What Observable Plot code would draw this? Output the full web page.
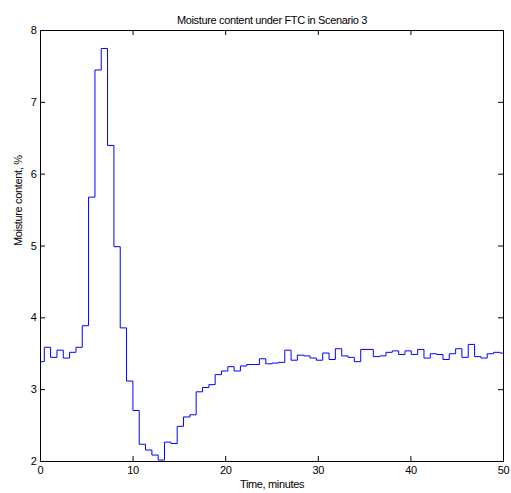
<!DOCTYPE html>
<html>
<head>
<meta charset="utf-8">
<script src="https://cdn.jsdelivr.net/npm/d3@7"></script>
<script src="https://cdn.jsdelivr.net/npm/@observablehq/plot@0.6"></script>
<style>
  html, body { margin: 0; padding: 0; background: #fff; }
  #chart { width: 511px; height: 493px; }
</style>
</head>
<body>
<div id="chart"></div>
<script>
// Step start times (minutes)
const times = [0, 0.41, 1.09, 1.78, 2.46, 3.14, 3.83, 4.51, 5.19, 5.88, 6.56, 7.24, 7.93, 8.61, 9.29, 9.98,
  10.66, 11.34, 12.03, 12.71, 13.39, 14.08, 14.76, 15.44, 16.13, 16.81, 17.49, 18.18, 18.86, 19.54,
  20.23, 20.91, 21.59, 22.28, 22.96, 23.64, 24.33, 25.01, 25.69, 26.38, 27.06, 27.74, 28.43, 29.11,
  29.79, 30.48, 31.16, 31.84, 32.53, 33.21, 33.89, 34.58, 35.26, 35.94, 36.63, 37.31, 37.99, 38.68,
  39.36, 40.04, 40.73, 41.41, 42.09, 42.78, 43.46, 44.14, 44.83, 45.51, 46.19, 46.88, 47.56, 48.24,
  48.93, 49.61, 50];
// Moisture content (%) for each step
const moisture = [3.39, 3.59, 3.45, 3.55, 3.44, 3.52, 3.59, 3.89, 5.68, 7.45, 7.75, 6.40, 4.99, 3.86, 3.12, 2.71,
  2.24, 2.16, 2.09, 2.02, 2.27, 2.25, 2.49, 2.62, 2.65, 2.97, 3.03, 3.07, 3.21, 3.26,
  3.32, 3.26, 3.33, 3.35, 3.35, 3.43, 3.36, 3.37, 3.38, 3.55, 3.41, 3.48, 3.47, 3.44,
  3.41, 3.51, 3.42, 3.57, 3.47, 3.45, 3.39, 3.56, 3.56, 3.46, 3.47, 3.52, 3.54, 3.49,
  3.54, 3.49, 3.56, 3.44, 3.50, 3.49, 3.42, 3.50, 3.57, 3.45, 3.63, 3.46, 3.44, 3.50,
  3.52, 3.51, 3.51];
const xTicks = [0, 10, 20, 30, 40, 50];
const yTicks = [2, 3, 4, 5, 6, 7, 8];
const titleText = "Moisture content under FTC in Scenario 3";
const xLabel = "Time, minutes";
const yLabel = "Moisture content, %";

const data = times.map((t, i) => ({t, v: moisture[i]}));
const font = "'Liberation Sans', Arial, Helvetica, sans-serif";

const chart = Plot.plot({
  width: 511,
  height: 493,
  marginLeft: 40,
  marginRight: 8,
  marginTop: 30,
  marginBottom: 32,
  style: {fontFamily: font, fontSize: "11px", background: "#fff", color: "#000", letterSpacing: "-0.35px"},
  x: {domain: [0, 50]},
  y: {domain: [2, 8]},
  marks: [
    Plot.line(data, {x: "t", y: "v", curve: "step-after", stroke: "#0000ff", strokeWidth: 1}),
    Plot.frame({stroke: "#000", strokeWidth: 1}),
    // inward ticks on all four sides
    Plot.tickX(xTicks, {x: d => d, insetTop: 426, stroke: "#000", strokeWidth: 1}),
    Plot.tickX(xTicks, {x: d => d, insetBottom: 426, stroke: "#000", strokeWidth: 1}),
    Plot.tickY(yTicks, {y: d => d, insetRight: 458, stroke: "#000", strokeWidth: 1}),
    Plot.tickY(yTicks, {y: d => d, insetLeft: 458, stroke: "#000", strokeWidth: 1}),
    Plot.axisX({ticks: xTicks, tickSize: 0, tickPadding: 5, label: null, tickFormat: d3.format("d"), fontSize: 11}),
    Plot.axisY({ticks: yTicks, tickSize: 0, tickPadding: 4, label: null, tickFormat: d3.format("d"), fontSize: 11}),
    Plot.text([titleText], {frameAnchor: "top", dy: -14, fontSize: 11, fill: "#000"}),
    Plot.text([xLabel], {frameAnchor: "bottom", dy: 26, fontSize: 11, fill: "#000"}),
    Plot.text([yLabel], {frameAnchor: "left", dx: -22, rotate: -90, fontSize: 11, fill: "#000"})
  ]
});
document.getElementById("chart").appendChild(chart);
</script>
</body>
</html>
